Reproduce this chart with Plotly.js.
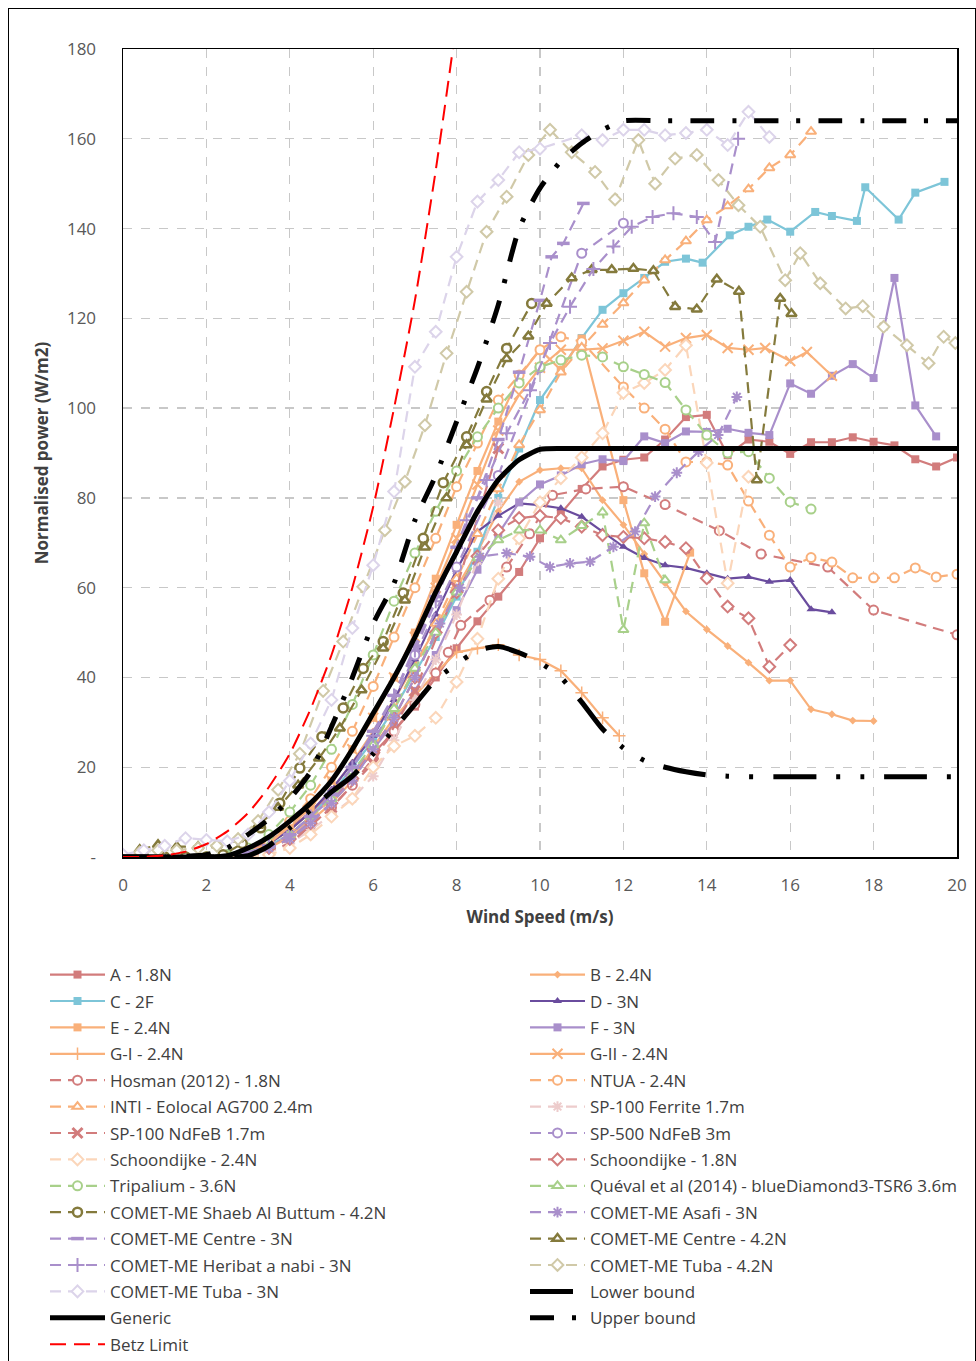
<!DOCTYPE html>
<html><head><meta charset="utf-8">
<script src="https://cdn.plot.ly/plotly-3.0.1.min.js"></script>
<style>html,body{margin:0;padding:0;background:#fff}#frame{position:absolute;left:8px;top:8px;width:966px;height:1352px;border:1px solid #000;pointer-events:none;z-index:10}</style>
</head><body>
<div id="chart" style="width:976px;height:1361px"></div>
<div id="frame"></div>
<script>
// ---- data (wind speed m/s, normalised power W/m2) ----
const A_x=[0,0.5,1,1.5,2,2.5,3,3.5,4,4.5,5,5.5,6,6.5,7,7.5,8,8.5,9,9.5,10,10.5,11,11.5,12,12.5,13,13.5,14,14.5,15,15.5,16,16.5,17,17.5,18,18.5,19,19.5,20];
const A_y=[0,0,0,0,0,0.5,1.5,3.5,6.5,10,14,18.5,23,28,33.5,40,46.5,52.5,58,63.5,71,76.5,82,87,88.5,89,93,98,98.5,89.5,93,92.5,89.8,92.4,92.4,93.5,92.5,91.7,88.6,87,89];
const B_x=[3,3.5,4,4.5,5,5.5,6,6.5,7,7.5,8,8.5,9,9.5,10,10.5,11,11.5,12,12.5,13,13.5,14,14.5,15,15.5,16,16.5,17,17.5,18];
const B_y=[1,3,6,10,15,21,28,35,43,51,60,68,77,83.6,86.2,86.6,86.6,79.5,74,67.5,61,54.7,50.7,47,43.3,39.3,39.3,32.9,31.8,30.4,30.3];
const C_x=[0,0.5,1,1.5,2,2.5,3,3.5,4,4.5,5,5.5,6,6.5,7,7.5,8,8.5,9,9.5,10,10.5,11,11.5,12,12.5,13,13.5,13.9,14.55,15,15.45,16,16.6,17,17.6,17.8,18.6,19,19.7];
const C_y=[0,0,0,0,0,0,1,2.5,5,9,14,20,26,33,41,49,58,68,80,91,101.8,108.5,115.6,121.9,125.6,129,132.6,133.3,132.4,138.5,140.4,142,139.3,143.7,142.8,141.7,149.2,142,148,150.4];
const D_x=[3,3.5,4,4.5,5,5.5,6,6.5,7,7.5,8,8.5,9,9.5,10,10.5,11,11.5,12,12.5,13,13.5,14,14.5,15,15.5,16,16.5,17];
const D_y=[1,3,6,10,15,21,27,35,44,54,64,72.5,76,78.8,78.4,77.7,75.8,72.5,69.1,66.6,65,64.4,63.2,62,62.4,61.3,61.7,55.2,54.5];
const E_x=[0,0.5,1,1.5,2,2.5,3,3.5,4,4.5,5,5.5,6,6.5,7,7.5,8,8.5,9,9.5,10,10.5,11,12,12.5,13,13.6];
const E_y=[0,0,0,0,0,0,1,3,7,11,17,24,31,40,50,62,74,86,97,107,113,108.5,115.5,79.5,63.2,52.4,67.8];
const F_x=[0,0.5,1,1.5,2,2.5,3,3.5,4,4.5,5,5.5,6,6.5,7,7.5,8,8.5,9,9.5,10,10.5,11,11.5,12,12.5,13,13.5,14,14.5,15,15.5,16,16.5,17,17.5,18,18.5,19,19.5];
const F_y=[0,0,0,0,0,0,0.5,2,5,9,13,18,24,30,37,45,55,64,72,79,83,85,87.5,88.6,88.2,93.7,92.2,94.8,94.7,95.4,94.5,94,105.5,103.2,107.2,109.8,106.7,129,100.6,93.7];
const GI_x=[3,3.5,4,4.5,5,5.5,6,6.5,7,7.5,8,8.5,9,9.5,10,10.5,11,11.5,11.9];
const GI_y=[0.5,2,4.5,8,12,17,24.5,31,36,41,45.6,46.5,47.3,45,44,41.5,36.6,31,27];
const GII_x=[3,3.5,4,4.5,5,5.5,6,6.5,7,7.5,8,8.5,9,9.5,10,10.5,11,11.5,12,12.5,13,13.5,14,14.5,15,15.4,16,16.4,17];
const GII_y=[1,3,7,11,17,24,31,40,49,60,71,83,95,103,109,113,113,113.3,115,117,113.7,115.6,116.3,113.4,113,113.4,110.5,112.5,107.2];
const HOS_x=[3,3.5,4,4.5,5,5.5,6,6.5,7,7.5,7.8,8.1,8.8,9.2,9.75,10.3,11.1,12,13,14.3,15.3,16.9,18,20];
const HOS_y=[0.5,2,4,7,11,16,22,28,34,41,45.6,51.6,57.2,64.6,72,80.6,82,82.5,78.5,72.7,67.5,64.6,55,49.5];
const NTUA_x=[0,0.5,1,1.5,2,2.5,3,3.5,4,4.5,5,5.5,6,6.5,7,7.5,8,8.5,9,9.5,10,10.5,11,12,12.5,13,13.5,14,14.5,15,15.5,16,16.5,17,17.5,18,18.5,19,19.5,20];
const NTUA_y=[0,0,0,0,0,0,1,3,8,13,20,28,38,49,60,71,82.5,92.2,101.8,107.4,113,115.9,114.8,104.7,100,95.3,88,88,87.3,79.3,71.7,64.6,66.7,65.7,62.2,62.2,62.2,64.4,62.4,63];
const INTI_x=[3,3.5,4,4.5,5,5.5,6,6.5,7,7.5,8,8.5,9,9.5,10,10.5,11,11.5,12,12.5,13,13.5,14,14.5,15,15.5,16,16.5];
const INTI_y=[0.5,2,5,8.5,13,18,25,33,42,52,62,72,82,91.8,99.6,108,113.5,118.6,123.4,128.5,133,137.2,141.9,145,148.8,153.5,156.4,161.6];
const SPF_x=[3,3.5,4,4.5,5,5.5,6,6.5,7,7.5,8,8.5,9];
const SPF_y=[0,1,3,6,9.5,13,18,26,35,44,54,66,79];
const SPN_x=[3,4,5,6,7,8,9];
const SPN_y=[0,3,11,21,37,60,91];
const SP5_x=[3,4,5,6,7,8,9,10,11,12];
const SP5_y=[0.5,4,12,25,45,64.6,85,109,134.5,141.2];
const SCH24_x=[3,3.5,4,4.5,5,5.5,6,6.5,7,7.5,8,8.5,9,9.5,10,10.5,11,11.5,12,12.5,13,13.5,14,14.5,15];
const SCH24_y=[0,0.5,2,5,9,13,20,24.7,27,31,39,48.6,62,71,79,84.4,89,94.4,103.4,105.6,108.5,114,87.8,61,84.7];
const SCH18_x=[3,3.5,4,4.5,5,5.5,6,6.5,7,7.5,8,8.5,9,9.5,10,10.5,11,11.5,12,12.5,13,13.5,14,14.5,15,15.5,16];
const SCH18_y=[0.5,2,4,7.5,12,17.5,24,31,40,50,59,67,72.8,75.5,76,75.5,73.6,71.7,71.3,71,70.2,68.8,62.1,55.8,53.2,42.4,47.2];
const TRI_x=[0,0.5,1,1.5,2,2.5,3,3.5,4,4.5,5,5.5,6,6.5,7,7.5,8,8.5,9,9.5,10,10.5,11,11.5,12,12.5,13,13.5,14,14.5,15,15.5,16,16.5];
const TRI_y=[0,0,0,0,0,0.5,2,5,10,16,24,34,45,57,67.7,77,86,93.6,100,105.6,109.2,110.7,111.8,111.4,109.2,107.5,105.7,99.6,94,90,90.3,84.4,79.1,77.5];
const QUE_x=[0,0.5,1,1.5,2,2.5,3,3.5,4,4.5,5,5.5,6,6.5,7,7.5,8,8.5,9,9.5,10,10.5,11,11.5,12,12.5,13];
const QUE_y=[0,0,0,0,0,0.5,1,2.5,5,9,13,19,25,33,42,50,59,66.6,70.6,72.8,72.8,70.6,73.8,76.8,50.6,74.4,61.7];
const SHA_x=[0,0.5,1,1.5,2,2.4,2.86,3.3,3.76,4.24,4.77,5.28,5.76,6.24,6.72,7.2,7.68,8.24,8.72,9.2,9.8];
const SHA_y=[0,0,0,0,0,0.5,3,6.5,12,19.8,26.8,33.2,42,48,58.8,71,83.4,93.6,103.7,113.3,123.3];
const ASA_x=[3,3.5,4,4.5,5,5.5,6,6.5,7,7.6,8.08,8.56,9.2,9.76,10.24,10.72,11.2,11.76,12.28,12.76,13.28,13.8,14.27,14.72];
const ASA_y=[0.5,2,4,7.5,12,17,24,31,40,52,60,66.9,67.7,66.9,64.6,65.4,65.8,69.1,72.5,80.3,85.6,90.3,94,102.5];
const CEN3_x=[3,3.5,4,4.5,5,5.5,6,6.5,7,7.5,8,8.5,9,9.5,10,10.28,10.56,11.04];
const CEN3_y=[1,2.5,5,9,14,20,28,36,47,58,69,80,93,108,124,133.7,136.7,145.6];
const CEN42_x=[0.4,0.84,1.29,1.8,2.25,2.76,3.24,3.72,4.2,4.7,5.2,5.72,6.24,6.76,7.24,7.76,8.24,8.72,9.2,9.72,10.16,10.76,11.24,11.72,12.24,12.72,13.24,13.76,14.24,14.77,15.2,15.76,16.03];
const CEN42_y=[1.6,2.7,2.3,2.3,2.7,4,7,11,16,22,28.7,37.2,46.5,57.2,69,80,91.8,102,111,116,123.3,129,130.8,130.8,131.1,130.6,122.6,122,128.7,126,84,124.4,121];
const HER_x=[3,3.5,4,4.5,5,5.5,6,6.5,7,7.5,8.24,8.72,9.2,9.76,10.24,10.72,11.28,11.76,12.2,12.7,13.2,13.76,14.2,14.75];
const HER_y=[1,2.5,5,9,14,20,27,36,46,57,75,84,94.4,104,114.5,122.6,131,136,140.4,142.6,143.4,142.6,137,160];
const TUB42_x=[0.4,0.84,1.29,1.8,2.25,2.76,3.24,3.72,4.24,4.8,5.28,5.76,6.28,6.76,7.24,7.76,8.24,8.72,9.2,9.72,10.24,10.76,11.32,11.8,12.36,12.76,13.24,13.76,14.28,14.76,15.28,15.88,16.24,16.72,17.33,17.74,18.24,18.8,19.32,19.68,19.96];
const TUB42_y=[1,1.5,1.5,2,2.5,4,8,15,23,37,48,60.2,72.8,83.6,96.2,112.2,125.9,139.3,147.1,156.4,162,157,152.6,146.5,159.7,150,155.6,156.4,150.8,145.2,140.4,128.5,134.5,127.8,122.2,122.7,118.1,114,110,115.9,114.5];
const TUB3_x=[0,0.5,1,1.5,2,2.5,3,3.5,4,4.5,5,5.5,6,6.5,7,7.5,8,8.5,9,9.5,10,11,11.5,12,12.5,13,13.5,14,14.5,15,15.5];
const TUB3_y=[0.5,1.5,2.5,4.2,3.8,3.5,5,10,17,25.3,35,51,65,81.4,109.2,117,133.7,146,150.8,157,157.8,160.8,159.7,162,162,160.8,161.3,162,158.6,166,160.4];
const LOW_x=[0,1,2,3,3.5,4,4.5,5,5.5,6,6.5,7,7.5,8,8.5,9,9.5,10,10.5,11,11.5,12,12.5,13,13.5,14,14.5,15,16,17,18,19,20];
const LOW_y=[0,0,0,0.3,2.5,6.5,10.5,14.5,18,23,28.5,34,39.5,43,46,46.9,45.5,43.3,40,34.5,28.5,24.3,21.5,20,19,18.3,18,17.9,17.9,17.9,17.9,17.9,17.9];
const GEN_x=[0,1,2,2.5,3,3.5,4,4.5,5,5.5,6,6.5,7,7.5,8,8.5,9,9.5,10,10.5,11,12,13,14,15,16,17,18,19,20];
const GEN_y=[0,0,0,0.3,2,4.5,8,12,17,24,32,40,49,59,68,77,84,88.5,90.8,91,91,91,91,91,91,91,91,91,91,91];
const UP_x=[0,1,2,2.5,3,3.5,4,4.5,5,5.5,6,6.5,7,7.5,8,8.5,9,9.5,10,10.5,11,11.5,12,13,14,15,16,17,18,19,20];
const UP_y=[0,0,0.5,2,5,8.5,13,19,29,40,52,61,75,85,97,109,123,140,149,155,159,162,164,164,164,164,164,164,164,164,164];
const BETZ_x=[0,0.5,1,1.5,2,2.5,3,3.5,4,4.5,5,5.5,6,6.5,7,7.5,8];
const BETZ_y=[0,0.05,0.36,1.2,2.9,5.7,9.8,15.6,23,33,45,60,78,100,124,153,186];
const yTickVals=[0,20,40,60,80,100,120,140,160,180];
const yTickText=['-','20','40','60','80','100','120','140','160','180'];
const xTickVals=[0,2,4,6,8,10,12,14,16,18,20];

// ---- styles ----
const ROSE='#D27C7C', ORANGE='#F9B07A', BLUE='#7DC5D8', DPURP='#6A4C9E', LAV='#A98FCB',
      LPINK='#EDCCCC', PEACH='#FBD6BA', GREEN='#A8D08A', OLIVE='#847A3C', KHAKI='#D0C9A8', VLAV='#DCD4EA';
const DASH='11px,7px';
let gid=0;
function tr(name,x,y,color,dash,symbol,msize,leg,opts){
  opts=opts||{};
  const hollow=['circle','triangle-up','diamond'].indexOf(symbol)>=0 && opts.hollow;
  const thin=symbol.indexOf('open')>=0;
  gid++;
  return {type:'scatter',mode:'lines+markers',name:name,x:x,y:y,legend:leg,legendgroup:'g'+gid,
    line:{color:color,width:opts.lw||2.2,dash:dash},
    marker:{symbol:symbol,size:msize,color:hollow?'#fff':color,
      line:{color:color,width:hollow?(opts.mlw||2):(thin?(opts.mlw||2):0)}},
    hoverinfo:'x+y+name'};
}
function ln(name,x,y,color,dash,width,leg){
  gid++;
  return {type:'scatter',mode:'lines',name:name,x:x,y:y,legend:leg,legendgroup:'g'+gid,
    line:{color:color,width:width,dash:dash,shape:'spline',smoothing:0.6},hoverinfo:'x+y+name'};
}
const L='legend', R='legend2', H={hollow:true};
const traces=[
  tr('A - 1.8N',A_x,A_y,ROSE,'solid','square',8,L),
  tr('B - 2.4N',B_x,B_y,ORANGE,'solid','diamond',6,R),
  tr('C - 2F',C_x,C_y,BLUE,'solid','square',8,L),
  tr('D - 3N',D_x,D_y,DPURP,'solid','triangle-up',8,R),
  tr('E - 2.4N',E_x,E_y,ORANGE,'solid','square',8,L),
  tr('F - 3N',F_x,F_y,LAV,'solid','square',8,R),
  tr('G-I - 2.4N',GI_x,GI_y,ORANGE,'solid','cross-thin-open',9,L,{mlw:1.5}),
  tr('G-II - 2.4N',GII_x,GII_y,ORANGE,'solid','x-thin-open',10,R,{mlw:2}),
  tr('Hosman (2012) - 1.8N',HOS_x,HOS_y,ROSE,DASH,'circle',9,L,H),
  tr('NTUA - 2.4N',NTUA_x,NTUA_y,ORANGE,DASH,'circle',9,R,H),
  tr('INTI - Eolocal AG700 2.4m',INTI_x,INTI_y,ORANGE,DASH,'triangle-up',9,L,H),
  tr('SP-100 Ferrite 1.7m',SPF_x,SPF_y,LPINK,DASH,'asterisk-open',9,R),
  tr('SP-100 NdFeB 1.7m',SPN_x,SPN_y,ROSE,DASH,'x-thin-open',10,L,{mlw:3}),
  tr('SP-500 NdFeB 3m',SP5_x,SP5_y,LAV,DASH,'circle',9,R,H),
  tr('Schoondijke - 2.4N',SCH24_x,SCH24_y,PEACH,DASH,'diamond',9,L,H),
  tr('Schoondijke - 1.8N',SCH18_x,SCH18_y,ROSE,DASH,'diamond',9,R,H),
  tr('Tripalium - 3.6N',TRI_x,TRI_y,GREEN,DASH,'circle',9,L,H),
  tr('Quéval et al (2014) - blueDiamond3-TSR6 3.6m',QUE_x,QUE_y,GREEN,DASH,'triangle-up',9,R,H),
  tr('COMET-ME Shaeb Al Buttum - 4.2N',SHA_x,SHA_y,OLIVE,DASH,'circle',9,L,{hollow:true,mlw:2.5}),
  tr('COMET-ME Asafi - 3N',ASA_x,ASA_y,LAV,DASH,'asterisk-open',9,R),
  tr('COMET-ME Centre - 3N',CEN3_x,CEN3_y,LAV,DASH,'line-ew-open',9,L,{mlw:3.5}),
  tr('COMET-ME Centre - 4.2N',CEN42_x,CEN42_y,OLIVE,DASH,'triangle-up',9,R,{hollow:true,mlw:2.5}),
  tr('COMET-ME Heribat a nabi - 3N',HER_x,HER_y,LAV,DASH,'cross-thin-open',10,L,{mlw:2}),
  tr('COMET-ME Tuba - 4.2N',TUB42_x,TUB42_y,KHAKI,DASH,'diamond',9,R,H),
  tr('COMET-ME Tuba - 3N',TUB3_x,TUB3_y,VLAV,DASH,'diamond',9,L,H),
  ln('Lower bound',LOW_x,LOW_y,'#000','43px,20px,4px,20px,4px,20px',5,R),
  ln('Generic',GEN_x,GEN_y,'#000','solid',5,L),
  ln('Upper bound',UP_x,UP_y,'#000','24px,18px,4px,18px',5,R),
  ln('Betz Limit',BETZ_x,BETZ_y,'#FF0000','16px,8px',2,L)
];

const legBase={orientation:'v',xanchor:'left',yanchor:'top',y:-0.1238,itemwidth:55,traceorder:'grouped',
  tracegroupgap:1.3,font:{size:17,color:'#404040'},bgcolor:'rgba(0,0,0,0)',borderwidth:0};
const layout={
  width:976,height:1361,
  margin:{l:123,r:19,t:49,b:504,pad:0,autoexpand:false},
  paper_bgcolor:'#fff',plot_bgcolor:'#fff',
  font:{family:'"Open Sans", sans-serif',color:'#404040',size:15},
  showlegend:true,
  xaxis:{range:[0,20],tickvals:xTickVals,ticks:'',showline:true,linecolor:'#000',linewidth:1.5,mirror:true,
    showgrid:true,gridcolor:'#C8C8C8',griddash:'dash',gridwidth:1.3,zeroline:false,
    tickfont:{size:17,color:'#595959'},ticklabelstandoff:12,
    title:{text:'<b>Wind Speed (m/s)</b>',font:{size:17,color:'#404040'},standoff:16}},
  yaxis:{range:[0,180],tickvals:yTickVals,ticktext:yTickText,ticks:'',showline:true,linecolor:'#000',linewidth:1.5,mirror:true,
    showgrid:true,gridcolor:'#C8C8C8',griddash:'dash',gridwidth:1.3,zeroline:false,
    tickfont:{size:17,color:'#595959'},ticklabelstandoff:22,
    title:{text:'<b>Normalised power (W/m2)</b>',font:{size:17,color:'#404040'},standoff:14}},
  legend:Object.assign({},legBase,{x:(45-123)/834}),
  legend2:Object.assign({},legBase,{x:(525-123)/834})
};
Plotly.newPlot('chart',traces,layout,{staticPlot:true,displayModeBar:false});
</script>
</body></html>
